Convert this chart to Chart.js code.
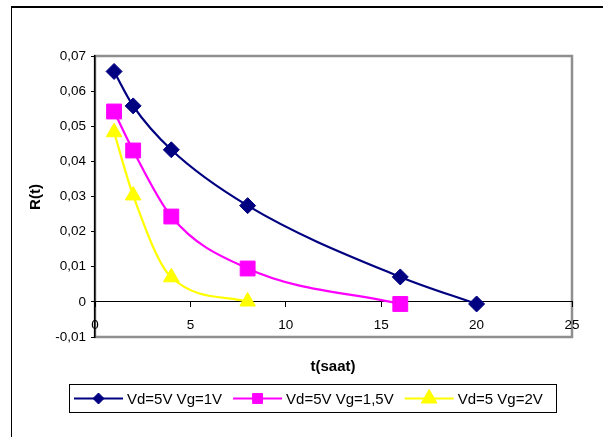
<!DOCTYPE html>
<html>
<head>
<meta charset="utf-8">
<script src="https://cdn.jsdelivr.net/npm/chart.js@4/dist/chart.umd.min.js"></script>
<style>
  html, body { margin: 0; padding: 0; background: #fff; }
  #wrap { position: relative; width: 603px; height: 437px; }
  canvas { display: block; }
</style>
</head>
<body>
<div id="wrap"><canvas id="c" width="603" height="437"></canvas></div>
<script>
// ---- Data ----
const seriesNames = ['Vd=5V Vg=1V', 'Vd=5V Vg=1,5V', 'Vd=5 Vg=2V'];
const t1 = [1, 2, 4, 8, 16, 20];
const r1 = [0.0656, 0.0558, 0.0433, 0.0274, 0.0071, -0.0006];
const t2 = [1, 2, 4, 8, 16];
const r2 = [0.0542, 0.0431, 0.0243, 0.0095, -0.0006];
const t3 = [1, 2, 4, 8];
const r3 = [0.0483, 0.0303, 0.0070, 0.0001];
const xTitle = 't(saat)';
const yTitle = 'R(t)';
const xMin = 0, xMax = 25, xStep = 5;
const yMin = -0.01, yMax = 0.07, yStep = 0.01;

const FONT = "'Liberation Sans', Arial, sans-serif";
const colors = ['#000080', '#FF00FF', '#FFFF00'];
const styles = ['rectRot', 'rect', 'triangle'];
const radii = [8, 10.5, 9];
const legendRadii = [5.5, 7, 9];

function pts(xs, ys) { return xs.map((x, i) => ({ x: x, y: ys[i] })); }
const allData = [pts(t1, r1), pts(t2, r2), pts(t3, r3)];

const datasets = allData.map((d, i) => ({
  label: seriesNames[i],
  data: d,
  borderColor: colors[i],
  backgroundColor: colors[i],
  pointBackgroundColor: colors[i],
  pointBorderColor: colors[i],
  pointStyle: styles[i],
  pointRadius: radii[i],
  pointBorderWidth: 1,
  borderWidth: 2.2,
  cubicInterpolationMode: 'monotone',
  showLine: true,
  fill: false,
  clip: 12
}));

function fmt(v) {
  if (Math.abs(v) < 1e-9) return '0';
  return v.toFixed(2).replace('.', ',');
}

const framePlugin = {
  id: 'frame',
  beforeDraw(chart) {
    const ctx = chart.ctx, a = chart.chartArea;
    ctx.save();
    ctx.strokeStyle = '#000';
    ctx.lineWidth = 1;
    ctx.beginPath();
    ctx.moveTo(11.5, 437); ctx.lineTo(11.5, 7);
    ctx.stroke();
    ctx.lineWidth = 2;
    ctx.beginPath();
    ctx.moveTo(11, 7); ctx.lineTo(603, 7);
    ctx.stroke();
    ctx.strokeStyle = '#8f8f8f';
    ctx.lineWidth = 2.5;
    ctx.strokeRect(a.left, a.top, a.right - a.left, a.bottom - a.top);
    ctx.restore();
  },
  afterDraw(chart) {
    const ctx = chart.ctx;
    ctx.save();
    ctx.fillStyle = '#000';
    ctx.font = 'bold 15px ' + FONT;
    ctx.textAlign = 'center';
    ctx.textBaseline = 'middle';
    ctx.fillText(xTitle, 333, 367);
    ctx.translate(36, 197);
    ctx.rotate(-Math.PI / 2);
    ctx.fillText(yTitle, 0, 0);
    ctx.restore();

    ctx.save();
    const bx = 69.5, by = 384.5, bw = 487, bh = 28;
    ctx.fillStyle = '#fff';
    ctx.fillRect(bx, by, bw, bh);
    ctx.strokeStyle = '#000';
    ctx.lineWidth = 1;
    ctx.strokeRect(bx, by, bw, bh);
    ctx.font = '15px ' + FONT;
    ctx.textBaseline = 'middle';
    ctx.textAlign = 'left';
    let x = 74;
    const cy = 398.5;
    chart.data.datasets.forEach((ds, i) => {
      ctx.strokeStyle = ds.borderColor;
      ctx.lineWidth = 2.2;
      ctx.beginPath();
      ctx.moveTo(x, cy); ctx.lineTo(x + 49, cy);
      ctx.stroke();
      ctx.fillStyle = ds.backgroundColor;
      ctx.strokeStyle = ds.borderColor;
      ctx.lineWidth = 1;
      Chart.helpers.drawPoint(ctx, { pointStyle: ds.pointStyle, radius: legendRadii[i], borderWidth: 1, rotation: 0 }, x + 24.5, cy);
      ctx.fillStyle = '#000';
      const tx = x + 53;
      ctx.fillText(ds.label, tx, cy + 1);
      x = tx + ctx.measureText(ds.label).width + 11;
    });
    ctx.restore();
  }
};

new Chart(document.getElementById('c'), {
  type: 'scatter',
  data: { datasets: datasets },
  options: {
    responsive: false,
    animation: false,
    devicePixelRatio: 1,
    layout: { padding: { left: 0, top: 56, right: 31, bottom: 100 } },
    plugins: { legend: { display: false }, tooltip: { enabled: false } },
    scales: {
      x: {
        type: 'linear',
        position: { y: 0 },
        min: xMin, max: xMax,
        grid: { display: true, drawOnChartArea: false, drawTicks: true, tickLength: 5, color: '#000', lineWidth: 1 },
        border: { display: true, color: '#000', width: 1 },
        ticks: { stepSize: xStep, color: '#000', font: { family: FONT, size: 13.5 }, padding: 10, maxRotation: 0, autoSkip: false },
        title: { display: false }
      },
      y: {
        type: 'linear',
        min: yMin, max: yMax,
        afterFit(scale) { scale.width = 95; },
        grid: { display: true, drawOnChartArea: false, drawTicks: true, tickLength: 4, color: '#000', lineWidth: 1 },
        border: { display: true, color: '#000', width: 1.5 },
        ticks: { stepSize: yStep, color: '#000', font: { family: FONT, size: 13.5 }, padding: 5, callback: fmt, autoSkip: false },
        title: { display: false }
      }
    }
  },
  plugins: [framePlugin]
});
</script>
</body>
</html>
